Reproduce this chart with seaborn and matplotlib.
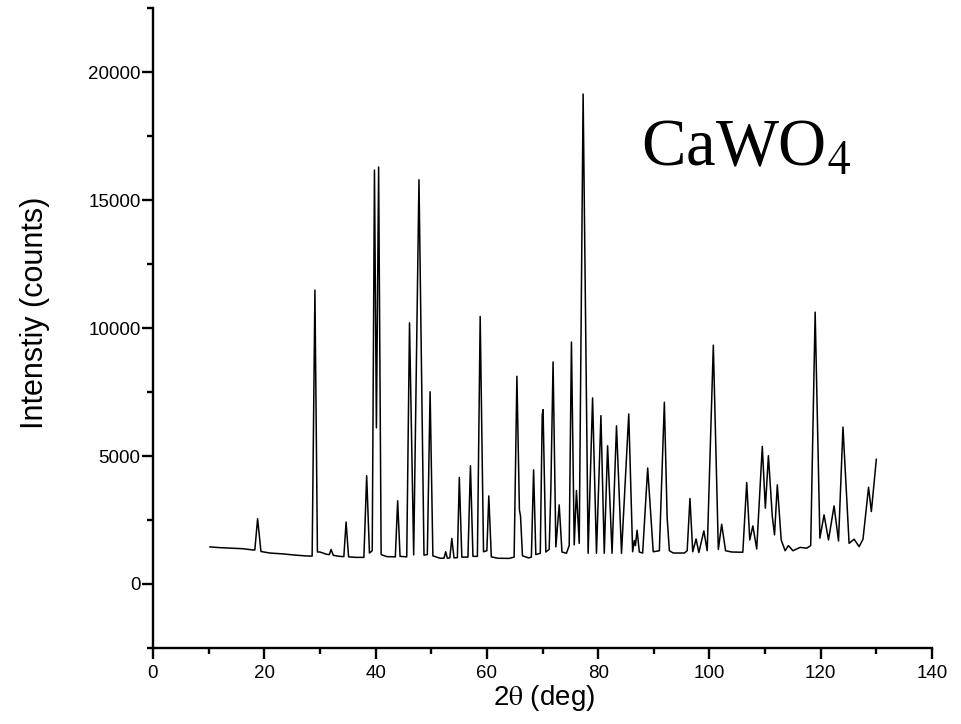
import matplotlib
matplotlib.use("Agg")
import matplotlib.pyplot as plt
import seaborn as sns
import pandas as pd
from matplotlib.ticker import MultipleLocator

two_theta = [
    10.2, 12.0, 14.0, 16.0, 18.0, 18.3, 18.8, 19.4, 21.0, 23.4, 25.5, 27.6, 28.6,
    29.1, 29.55, 30.0, 31.2, 31.7, 32.0, 32.4, 33.5, 34.3, 34.7, 35.15, 36.5, 37.9,
    38.4, 38.9, 39.4, 39.8, 40.15, 40.55, 41.0, 42.0, 43.55, 43.97, 44.4, 45.6,
    46.1, 46.85, 47.8, 48.7, 49.3, 49.8, 50.3, 51.6, 52.3, 52.6, 52.9, 53.35,
    53.7, 54.1, 54.7, 55.05, 55.5, 56.6, 57.05, 57.5, 58.3, 58.8, 59.4, 60.0,
    60.35, 60.8, 62.0, 64.0, 64.9, 65.4, 65.85, 66.05, 66.4, 67.5, 68.0, 68.4,
    68.8, 69.6, 69.95, 70.1, 70.6, 71.2, 71.5, 71.9, 72.4, 73.0, 73.5, 74.3,
    74.8, 75.2, 75.7, 76.1, 76.6, 77.3, 78.2, 79.0, 79.7, 80.5, 81.1, 81.7,
    82.5, 83.3, 84.2, 85.5, 86.2, 86.5, 86.7, 87.0, 87.4, 88.0, 88.9, 89.9,
    91.0, 91.9, 92.4, 92.8, 93.5, 95.5, 96.0, 96.5, 97.0, 97.6, 98.1, 99.0,
    99.6, 100.7, 101.6, 102.2, 102.9, 104.0, 106.0, 106.7, 107.25, 107.8, 108.5,
    109.5, 110.05, 110.6, 111.3, 111.7, 112.2, 112.9, 113.6, 114.2, 115.0, 116.3,
    117.5, 118.2, 119.0, 119.85, 120.6, 121.4, 122.4, 123.2, 124.0, 125.1, 126.0,
    126.9, 127.6, 128.6, 129.1, 130.0,
]
intensity = [
    1450, 1420, 1400, 1380, 1330, 1330, 2550, 1270, 1210, 1175, 1130, 1095, 1090,
    11480, 1250, 1250, 1160, 1150, 1350, 1120, 1080, 1070, 2420, 1060, 1040, 1040,
    4230, 1210, 1300, 16170, 6100, 16290, 1150, 1070, 1060, 3250, 1080, 1060,
    10200, 1135, 15790, 1130, 1150, 7510, 1100, 1005, 1010, 1260, 1010, 1020,
    1780, 1020, 1030, 4160, 1050, 1050, 4620, 1080, 1080, 10450, 1260, 1300,
    3440, 1060, 1005, 1000, 1050, 8115, 2900, 2650, 1100, 1020, 1050, 4460,
    1150, 1200, 6600, 6810, 1250, 1350, 3680, 8675, 1450, 3090, 1250, 1200,
    1500, 9450, 1530, 3650, 1590, 19140, 1200, 7270, 1200, 6575, 1200, 5400,
    1200, 6180, 1200, 6640, 1260, 1700, 1500, 2100, 1250, 1210, 4530, 1260,
    1300, 7100, 2600, 1300, 1210, 1210, 1300, 3340, 1260, 1760, 1230, 2075,
    1300, 9330, 1350, 2335, 1300, 1250, 1240, 3965, 1720, 2270, 1370,
    5375, 2960, 5010, 2635, 1920, 3875, 1720, 1300, 1500, 1300, 1430,
    1400, 1500, 10620, 1790, 2700, 1720, 3050, 1680, 6130, 1590, 1750,
    1460, 1750, 3780, 2830, 4880,
]

x_ticks = [0, 20, 40, 60, 80, 100, 120, 140]
y_ticks = [0, 5000, 10000, 15000, 20000]

df = pd.DataFrame({"two_theta": two_theta, "intensity": intensity})

sns.set_theme(style="ticks")
plt.rcParams["font.family"] = ["Liberation Sans", "DejaVu Sans"]
plt.rcParams["mathtext.fontset"] = "stix"

fig = plt.figure(figsize=(9.62, 7.24), dpi=100)
ax = fig.add_axes([153 / 962, 1 - 648 / 724, 779 / 962, 640 / 724])

sns.lineplot(data=df, x="two_theta", y="intensity", ax=ax, color="black",
             linewidth=1.1, estimator=None, sort=False)

ax.set_xlim(0, 140)
ax.set_ylim(-2500, 22500)
ax.set_xticks(x_ticks)
ax.set_yticks(y_ticks)
ax.xaxis.set_minor_locator(MultipleLocator(10))
ax.yaxis.set_minor_locator(MultipleLocator(2500))

sns.despine(ax=ax)
for s in ["left", "bottom"]:
    ax.spines[s].set_linewidth(1.7)
    ax.spines[s].set_color("black")

ax.tick_params(axis="both", which="major", length=8, width=1.7, direction="out",
               labelsize=13.5, colors="black", pad=1)
ax.tick_params(axis="both", which="minor", length=4.5, width=1.7, direction="out",
               colors="black")
ax.tick_params(axis="x", which="major", pad=4)

ax.set_xlabel(r"2$\mathrm{\theta}$ (deg)", fontsize=20, color="black")
ax.set_ylabel("Intenstiy (counts)", fontsize=22, color="black")
ax.xaxis.set_label_coords((544 - 153) / 779, (648 - 683) / 640)
ax.yaxis.set_label_coords((50 - 153) / 779, (648 - 313) / 640)

ax.text(87.7, 16350, r"CaWO$_4$", fontsize=48, family=["Liberation Serif", "DejaVu Serif"],
        color="black", ha="left", va="baseline")

fig.savefig("out.png", dpi=100, facecolor="white")
